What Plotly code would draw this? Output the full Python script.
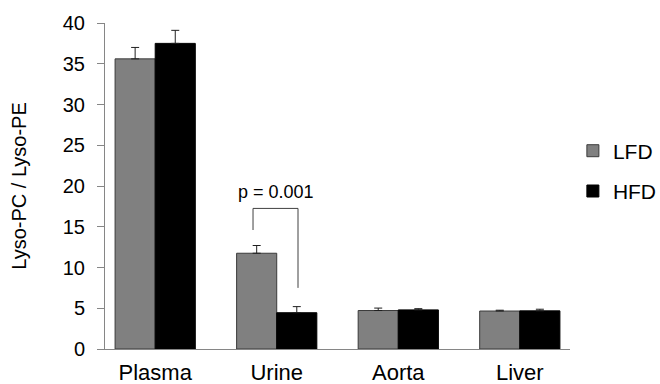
import plotly.graph_objects as go

categories = ["Plasma", "Urine", "Aorta", "Liver"]
lfd = [35.6, 11.75, 4.72, 4.66]
lfd_err = [1.4, 0.95, 0.3, 0.1]
hfd = [37.5, 4.45, 4.8, 4.68]
hfd_err = [1.6, 0.75, 0.15, 0.2]
y_ticks = [0, 5, 10, 15, 20, 25, 30, 35, 40]
p_text = "p = 0.001"

FONT = "Liberation Sans, Arial, sans-serif"

fig = go.Figure()
fig.add_trace(go.Bar(
    name="LFD", x=categories, y=lfd,
    marker=dict(color="#808080", line=dict(color="#3a3a3a", width=1)),
    error_y=dict(type="data", array=lfd_err, arrayminus=[0]*4, symmetric=False,
                 color="#202020", thickness=1, width=4),
    legendgroup="a",
))
fig.add_trace(go.Bar(
    name="HFD", x=categories, y=hfd,
    marker=dict(color="#000000", line=dict(color="#000000", width=1)),
    error_y=dict(type="data", array=hfd_err, arrayminus=[0]*4, symmetric=False,
                 color="#202020", thickness=1, width=4),
    legendgroup="b",
))

# significance bracket over Urine
bx0, bx1 = 1 - 0.195, 1 + 0.175
fig.add_shape(type="path",
              path=f"M {bx0},14.6 L {bx0},17.25 L {bx1},17.25 L {bx1},7.5",
              xref="x", yref="y", line=dict(color="#404040", width=1))
fig.add_annotation(x=(bx0 + bx1) / 2, y=19.3, xref="x", yref="y", text=p_text,
                   showarrow=False, yanchor="middle",
                   font=dict(family=FONT, size=18, color="black"))

fig.update_layout(
    width=660, height=384,
    margin=dict(l=105, r=90, t=23, b=35, autoexpand=False),
    paper_bgcolor="white", plot_bgcolor="white",
    font=dict(family=FONT, color="black"),
    barmode="group", bargap=0.34, bargroupgap=0,
    showlegend=True,
    legend=dict(xref="container", yref="container", x=0.868, xanchor="left",
                y=0.66, yanchor="top", itemwidth=30,
                font=dict(family=FONT, size=21, color="black"),
                traceorder="grouped", tracegroupgap=10,
                bgcolor="rgba(0,0,0,0)"),
)
fig.update_xaxes(
    range=[-0.413, 3.413], showline=True, linecolor="#868686", linewidth=1,
    ticks="", showgrid=False, zeroline=False, ticklabelstandoff=4, automargin=False,
    tickfont=dict(family=FONT, size=22, color="black"),
)
fig.update_yaxes(
    range=[0, 40], tickvals=y_ticks, showline=True, linecolor="#868686", linewidth=1,
    ticks="outside", ticklen=7, tickcolor="#868686", showgrid=False, zeroline=False,
    ticklabelstandoff=8, automargin=False,
    tickfont=dict(family=FONT, size=20, color="black"),
    title=dict(text="Lyso-PC / Lyso-PE", font=dict(family=FONT, size=20, color="black"),
               standoff=30),
)

fig.write_html("out.html")
